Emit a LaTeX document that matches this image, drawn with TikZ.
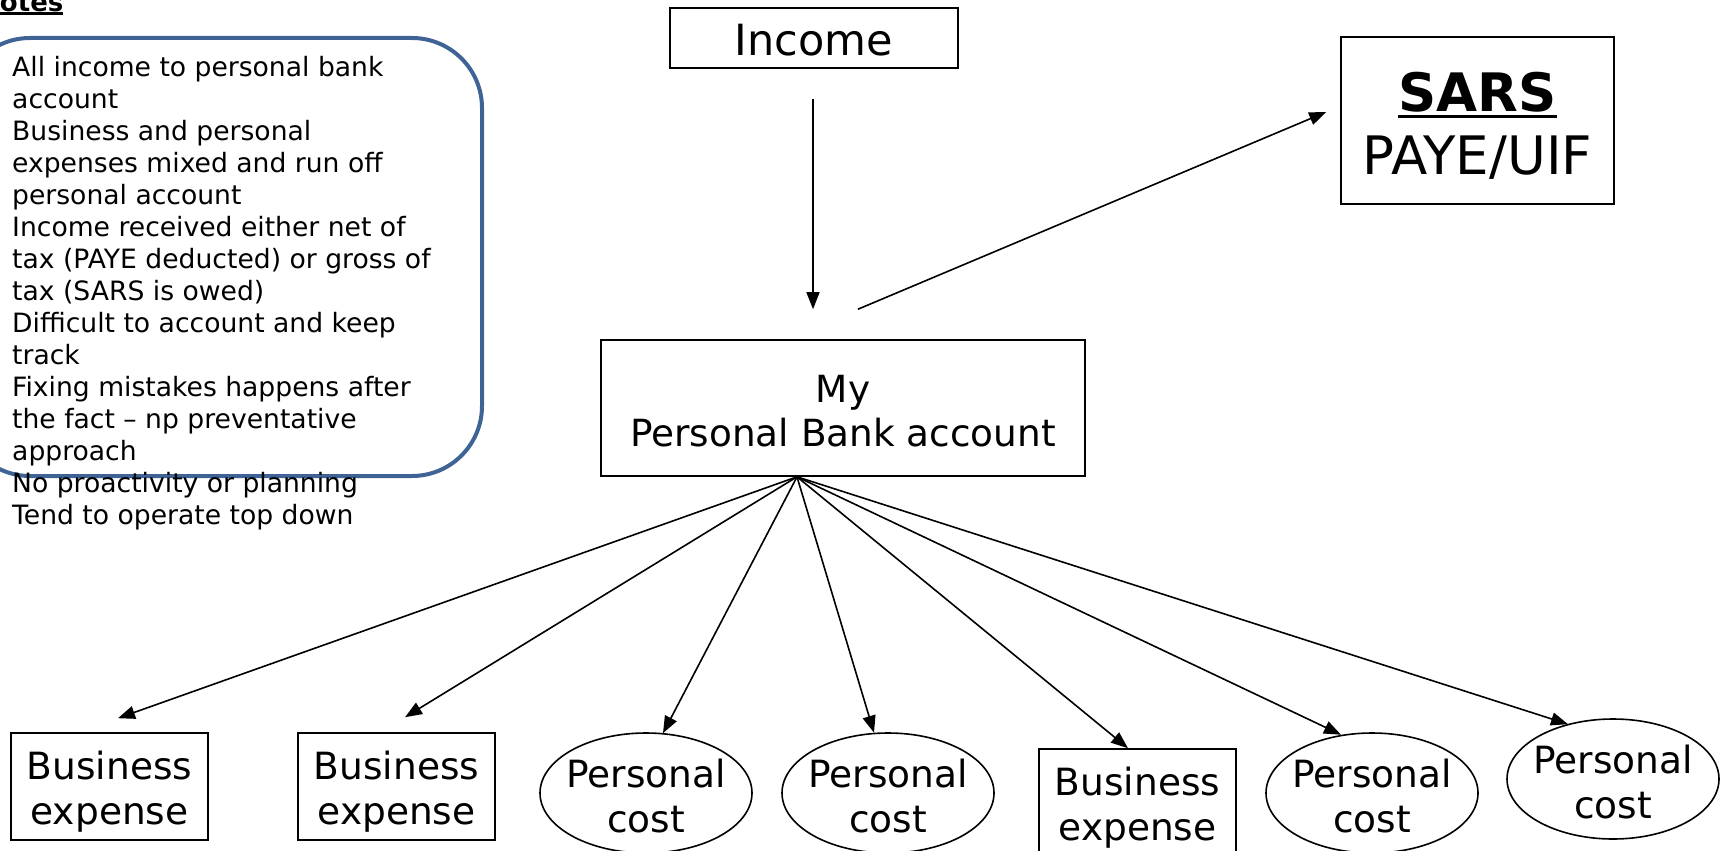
\documentclass[tikz,border=0pt]{standalone}
\usepackage{fontspec}
\setmainfont{DejaVu Sans}
\usetikzlibrary{arrows.meta,shapes.geometric,calc}
\definecolor{notesblue}{RGB}{62,99,148}
\newcommand{\thickul}[3]{\setbox0=\hbox{#3}\rlap{\raisebox{-#1}{\rule{\wd0}{#2}}}\box0}
\begin{document}
\begin{tikzpicture}[x=1pt,y=-1pt,
  box/.style={draw, line width=1.6pt, inner sep=0pt},
  txt/.style={inner sep=0pt, align=center},
  bottomtxt/.style={txt, font=\fontsize{37.5}{45}\selectfont},
  bizbox/.style={box, minimum width=197pt, minimum height=107pt},
  perscost/.style={ellipse, draw, line width=1.6pt, inner sep=0pt, minimum width=212pt, minimum height=120pt},
  arr/.style={line width=1.6pt, -{Triangle[length=17pt,width=13pt]}}]
\useasboundingbox (0,0) rectangle (1729,851);

% notes
\draw[notesblue, line width=4pt, rounded corners=70pt] (-40,38) rectangle (482,476);
\node[anchor=base west, inner sep=0pt, font=\bfseries\fontsize{26}{31}\selectfont] (title) at (-22,11.5) {\thickul{3.2pt}{2.4pt}{Notes}};
\node[anchor=north west, inner sep=0pt, align=left, font=\fontsize{26.6}{32}\selectfont] (notes) at (12,56) {All income to personal bank\\account\\Business and personal\\expenses mixed and run off\\personal account\\Income received either net of\\tax (PAYE deducted) or gross of\\tax (SARS is owed)\\Difficult to account and keep\\track\\Fixing mistakes happens after\\the fact – np preventative\\approach\\No proactivity or planning\\Tend to operate top down};

% main nodes
\node[box, minimum width=288pt, minimum height=60pt] (income) at (814,38) {};
\node[txt, font=\fontsize{43}{50}\selectfont] (income-t) at ($(income.center)+(0,2.2)$) {Income};
\node[box, minimum width=273pt, minimum height=167pt] (sars) at (1477.5,120.5) {};
\node[txt, font=\fontsize{53}{63}\selectfont] (sars-t) at ($(sars.center)+(0,5)$) {\thickul{7pt}{3.5pt}{\bfseries SARS}\\PAYE/UIF};
\node[box, minimum width=484pt, minimum height=136pt] (bank) at (843,408) {};
\node[txt, font=\fontsize{37.4}{44}\selectfont] (bank-t) at ($(bank.center)+(0,2.8)$) {My\\Personal Bank account};

% bottom nodes
\node[bizbox] (be1) at (109.5,786.5) {};
\node[bizbox] (be2) at (396.5,786.5) {};
\node[perscost] (pc1) at (646,793) {};
\node[perscost] (pc2) at (888,793) {};
\node[bizbox] (be3) at (1137.5,802.5) {};
\node[perscost] (pc3) at (1372,793) {};
\node[perscost] (pc4) at (1613,779) {};
\foreach \n in {be1,be2,be3} \node[bottomtxt] (\n-t) at ($(\n.center)+(0,5.3)$) {Business\\expense};
\foreach \n in {pc1,pc2,pc3,pc4} \node[bottomtxt] (\n-t) at ($(\n.center)+(0,2.6)$) {Personal\\cost};

% connectors
\coordinate (fan) at ($(bank.south)+(-46,0)$);
\coordinate (inA) at ($(income.south)+(-1,30)$);
\coordinate (inB) at ($(income.south |- bank.north)+(-1,-30)$);
\coordinate (sA) at ($(bank.north)+(15,-30)$);
\coordinate (sB) at ($(sars.west)+(-14,-8.5)$);
\coordinate (t1) at ($(be1.north)+(8.5,-14)$);
\coordinate (t2) at ($(be2.north)+(8.5,-15)$);
\coordinate (t3) at ($(pc1.north)+(17,1)$);
\coordinate (t4) at ($(pc2.north)+(-14,0.5)$);
\coordinate (t5) at ($(be3.north)+(-9.5,0)$);
\coordinate (t6) at ($(pc3.north)+(-31,2.5)$);
\coordinate (t7) at ($(pc4.north)+(-45,6)$);

\draw[arr] (inA) -- (inB);
\draw[arr] (sA) -- (sB);
\foreach \t in {t1,t2,t3,t4,t5,t6,t7} \draw[arr] (fan) -- (\t);
\end{tikzpicture}
\end{document}
